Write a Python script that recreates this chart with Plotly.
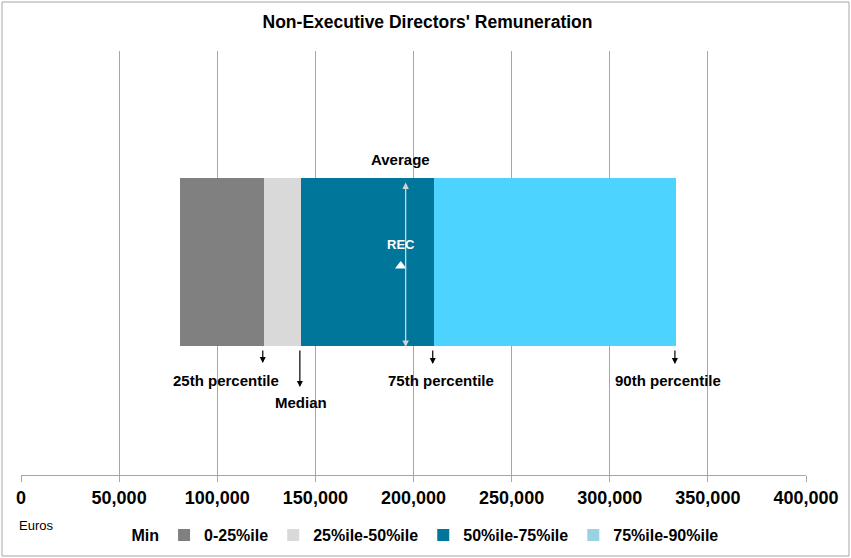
import plotly.graph_objects as go

# ---- data ----
series_names = ["Min", "0-25%ile", "25%ile-50%ile", "50%ile-75%ile", "75%ile-90%ile"]
boundaries = [81000, 123800, 142700, 210400, 333800]   # Min, P25, Median, P75, P90 (Euros)
average_value = 196000
rec_value = 193500
tick_values = [0, 50000, 100000, 150000, 200000, 250000, 300000, 350000, 400000]
tick_labels = ["0", "50,000", "100,000", "150,000", "200,000", "250,000", "300,000", "350,000", "400,000"]
marker_labels = ["25th percentile", "Median", "75th percentile", "90th percentile"]

bar_colors = ["rgba(255,255,255,0)", "#808080", "#d9d9d9", "#00769b", "#4cd3ff"]
legend_colors = ["#ffffff", "#808080", "#d9d9d9", "#00769b", "#99d3e2"]

W, H = 851, 558
L, R, T, B = 21, 45, 51, 83
plot_w = W - L - R
plot_h = H - T - B
XMAX = 400000
Y0, Y1 = -1.2679, 1.2559

def px2x(p):
    return (p - L) / plot_w * XMAX

def py2y(p):
    return Y0 + (H - B - p) / plot_h * (Y1 - Y0)

increments = [boundaries[0]] + [boundaries[i] - boundaries[i - 1] for i in range(1, len(boundaries))]

FONT = "Liberation Sans, Arial, sans-serif"

fig = go.Figure()
for name, inc, col in zip(series_names, increments, bar_colors):
    fig.add_trace(go.Bar(x=[inc], y=[0], orientation="h", width=1, name=name,
                         marker=dict(color=col, line=dict(width=0)), showlegend=False,
                         hoverinfo="skip"))
# legend entries
for name, col in zip(series_names, legend_colors):
    fig.add_trace(go.Bar(x=[None], y=[None], orientation="h", name=name,
                         marker=dict(color=col, line=dict(width=0))))

# REC marker
fig.add_trace(go.Scatter(x=[rec_value], y=[py2y(266)], mode="markers", showlegend=False,
                         marker=dict(symbol="triangle-up", size=10, color="white"), hoverinfo="skip"))

annotations = []
arrow_tips = [363, 387, 364, 364]
label_px = [(226, 380), (301, 402), (441, 380), (668, 380)]
for val, tip, lab, (lx, ly) in zip(boundaries[1:], arrow_tips, marker_labels, label_px):
    annotations.append(dict(x=val - 600, y=py2y(tip), xref="x", yref="y", text="", showarrow=True,
                            ax=0, ay=-(tip - 349), arrowhead=2, arrowsize=1, arrowwidth=1.2,
                            arrowcolor="#000000"))
    annotations.append(dict(x=px2x(lx), y=py2y(ly), xref="x", yref="y", text=lab, showarrow=False,
                            font=dict(family=FONT, size=15, color="#000000", weight="bold"),
                            xanchor="center", yanchor="middle"))
annotations.append(dict(x=average_value, y=py2y(347), xref="x", yref="y", text="", showarrow=True,
                        ax=0, ay=-166, arrowhead=2, startarrowhead=2, arrowside="end+start",
                        arrowsize=1, arrowwidth=1.3, arrowcolor="#d4d4d4"))
annotations.append(dict(x=px2x(400), y=py2y(159), xref="x", yref="y", text="Average",
                        showarrow=False, font=dict(family=FONT, size=15, color="#000000", weight="bold")))
annotations.append(dict(x=rec_value, y=py2y(244), xref="x", yref="y", text="REC",
                        showarrow=False, font=dict(family=FONT, size=13, color="#ffffff", weight="bold")))
annotations.append(dict(x=(17 - L) / plot_w, y=(H - B - 525) / plot_h, xref="paper", yref="paper",
                        text="Euros", showarrow=False, xanchor="left", yanchor="middle",
                        font=dict(family=FONT, size=13, color="#000000")))

fig.update_layout(
    width=W, height=H,
    margin=dict(l=L, r=R, t=T, b=B, pad=0, autoexpand=False),
    paper_bgcolor="white", plot_bgcolor="white",
    barmode="stack", bargap=0,
    title=dict(text="Non-Executive Directors' Remuneration", x=427.5 / W, xanchor="center",
               y=1 - 22 / H, yanchor="middle", yref="container",
               font=dict(family=FONT, size=17.5, color="#000000", weight="bold")),
    xaxis=dict(range=[0, XMAX], tickvals=tick_values, ticktext=tick_labels, showgrid=True,
               gridcolor="#a6a6a6", gridwidth=1, showline=True, linecolor="#a6a6a6", linewidth=1,
               ticks="outside", ticklen=6, tickcolor="#a6a6a6", zeroline=False, automargin=False,
               tickfont=dict(family=FONT, size=18, color="#000000", weight="bold"), fixedrange=True),
    yaxis=dict(range=[Y0, Y1], visible=False, showgrid=False, zeroline=False, fixedrange=True,
               automargin=False),
    legend=dict(orientation="h", x=0.5 - 6 / plot_w, xanchor="center", y=(H - B - 535) / plot_h,
                yanchor="middle",
                font=dict(family=FONT, size=16, color="#000000", weight="bold"), bgcolor="rgba(0,0,0,0)",
                traceorder="normal", itemclick=False, itemdoubleclick=False, tracegroupgap=0),
    annotations=annotations,
    shapes=[dict(type="rect", xref="paper", yref="paper",
                 x0=(2 - L) / plot_w, x1=(849 - L) / plot_w,
                 y0=(H - B - 556) / plot_h, y1=(H - B - 2) / plot_h,
                 line=dict(color="#a6a6a6", width=1), fillcolor="rgba(0,0,0,0)", layer="below")],
    font=dict(family=FONT, color="#000000"),
)

fig.write_html("out.html", config={"displayModeBar": False},
               post_script="document.body.style.margin='0';")
